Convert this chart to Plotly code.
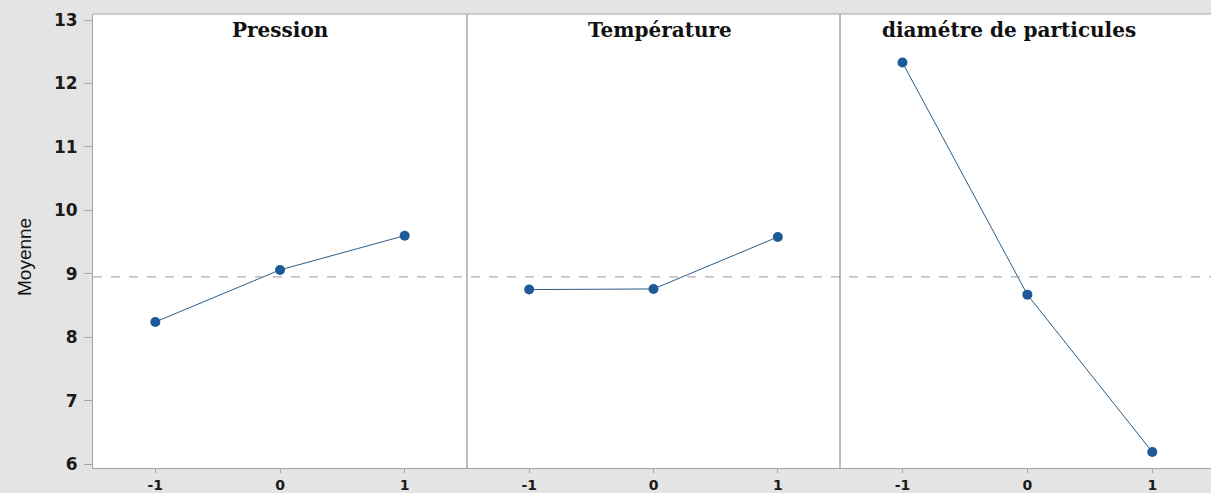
import plotly.graph_objects as go

# ---- data ----
levels = [-1, 0, 1]
factors = ["Pression", "Température", "diamétre de particules"]
pression = [8.24, 9.06, 9.60]
temperature = [8.75, 8.76, 9.58]
diametre = [12.33, 8.67, 6.19]
grand_mean = 8.95
y_ticks = [6, 7, 8, 9, 10, 11, 12, 13]

series = [pression, temperature, diametre]

W, H = 1211, 493
ml, mr, mt, mb = 93, 0, 14, 25
pw = W - ml - mr
ph = H - mt - mb
# panel boundaries in pixels (relative to plot left)
bounds_px = [0, 374, 747, pw]
domains = [[bounds_px[i] / pw, bounds_px[i + 1] / pw] for i in range(3)]
xranges = [[-1.5, 1.5], [-1.5, 1.5], [-1.5, 1.47]]

BG = "#e4e4e4"
AX = "#a6a6a6"
MARK = "#1d5b98"
LINE = "#2d5d86"

fig = go.Figure()
for i, (name, vals) in enumerate(zip(factors, series)):
    xa = "x" if i == 0 else f"x{i+1}"
    fig.add_trace(go.Scatter(
        x=levels, y=vals, xaxis=xa, yaxis="y", mode="lines+markers",
        line=dict(color=LINE, width=1),
        marker=dict(color=MARK, size=10, line=dict(width=0)),
        name=name, showlegend=False, hoverinfo="x+y"))

tickfont = dict(family="DejaVu Sans", size=17, color="#1a1a1a", weight="bold")

layout = dict(
    width=W, height=H,
    margin=dict(l=ml, r=mr, t=mt, b=mb, autoexpand=False),
    paper_bgcolor=BG, plot_bgcolor="white",
    yaxis=dict(range=[5.937, 13.095], tickvals=y_ticks, anchor="x",
               automargin=False,
               showgrid=False, zeroline=False, showline=True, linecolor=AX,
               linewidth=1, ticks="outside", ticklen=8, tickcolor=AX,
               tickfont=tickfont, ticklabelstandoff=3),
)
for i in range(3):
    key = "xaxis" if i == 0 else f"xaxis{i+1}"
    layout[key] = dict(domain=domains[i], range=xranges[i], anchor="y",
                       automargin=False,
                       tickvals=levels, ticktext=[str(v) for v in levels],
                       showgrid=False, zeroline=False, showline=True,
                       linecolor=AX, linewidth=1, ticks="outside", ticklen=4,
                       tickcolor=AX, tickfont=dict(tickfont, size=14),
                       ticklabelstandoff=0)
fig.update_layout(**layout)

shapes = []
# grand mean dashed reference line across all panels
shapes.append(dict(type="line", xref="paper", yref="y", x0=0, x1=1,
                   y0=grand_mean, y1=grand_mean,
                   line=dict(color="#9a9a9a", width=1, dash="dash")))
# panel dividers
for b in bounds_px[1:3]:
    shapes.append(dict(type="line", xref="paper", yref="paper",
                       x0=b / pw, x1=b / pw, y0=0, y1=1,
                       line=dict(color="#7a7a7a", width=1)))
# top border
shapes.append(dict(type="line", xref="paper", yref="paper", x0=0, x1=1,
                   y0=1, y1=1, line=dict(color=AX, width=1)))
fig.update_layout(shapes=shapes)

annotations = []
title_centers = [(bounds_px[i] + bounds_px[i + 1]) / 2 / pw for i in range(3)]
title_centers[1] = (660 - ml) / pw
title_centers[2] = (1009 - ml) / pw
for c, t in zip(title_centers, factors):
    annotations.append(dict(text=t, xref="paper", yref="paper", x=c,
                            y=1 - (30 - mt) / ph, xanchor="center",
                            yanchor="middle", showarrow=False,
                            font=dict(family="DejaVu Serif", size=20,
                                      color="#111111", weight="bold")))
annotations.append(dict(text="Moyenne", xref="paper", yref="paper",
                        x=(24 - ml) / pw, y=(H - mb - 257) / ph,
                        xanchor="center", yanchor="middle", textangle=-90,
                        showarrow=False,
                        font=dict(family="Liberation Sans", size=19,
                                  color="#111111")))
fig.update_layout(annotations=annotations)

fig.write_html("out.html")
